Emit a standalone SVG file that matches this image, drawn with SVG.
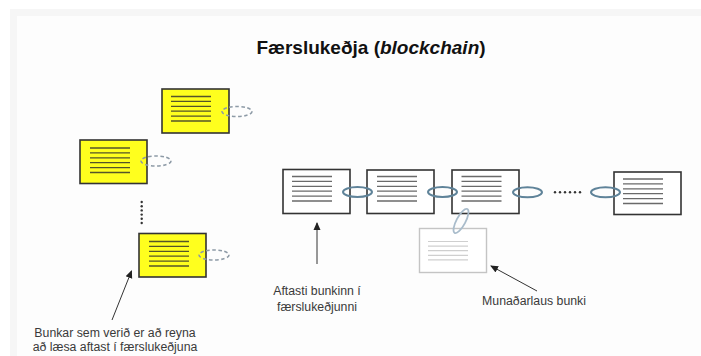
<svg xmlns="http://www.w3.org/2000/svg" width="701" height="356" viewBox="0 0 701 356">
<defs>
<style>
.blk{fill:#ffffff;stroke:#333333;stroke-width:1.6}
.ylw{fill:#ffff1e;stroke:#333333;stroke-width:1.6}
.ln{stroke:#6a6a6a;stroke-width:1.3}
.yln{stroke:#55552a;stroke-width:1.3}
.gln{stroke:#cfcfcf;stroke-width:1.2}
.link{fill:none;stroke:#5f8399;stroke-width:2}
.dlink{fill:none;stroke:#8d9aa6;stroke-width:1.6;stroke-dasharray:3.5 2.5}
.txt{font-family:"Liberation Sans","Open Sans",sans-serif;font-size:12.3px;fill:#3a3a3a;text-anchor:middle}
.arr{stroke:#333333;stroke-width:1;fill:none}
</style>
<marker id="ah" markerWidth="8" markerHeight="8" refX="7" refY="4" orient="auto" markerUnits="userSpaceOnUse">
<path d="M0,0.5 L8,4 L0,7.5 Z" fill="#222222"/>
</marker>
<g id="lines6">
<line x1="0" y1="0" x2="40" y2="0"/>
<line x1="0" y1="4.9" x2="40" y2="4.9"/>
<line x1="0" y1="9.8" x2="40" y2="9.8"/>
<line x1="0" y1="14.7" x2="40" y2="14.7"/>
<line x1="0" y1="19.6" x2="40" y2="19.6"/>
<line x1="0" y1="24.5" x2="40" y2="24.5"/>
</g>
</defs>
<rect x="0" y="0" width="701" height="356" fill="#ffffff"/>
<rect x="10" y="9" width="691" height="347" fill="#f6f6f6"/>
<rect x="17" y="16" width="684" height="340" fill="#fdfdfd"/>

<text x="371" y="54" style="font-family:'Liberation Sans','Open Sans',sans-serif;font-size:19px;font-weight:bold;fill:#111111;text-anchor:middle">Færslukeðja (<tspan font-style="italic">blockchain</tspan>)</text>

<g id="connectors">
<line class="arr" x1="112" y1="320" x2="131.5" y2="271" marker-end="url(#ah)"/>
<line class="arr" x1="317" y1="264" x2="317" y2="223" marker-end="url(#ah)"/>
<line class="arr" x1="537" y1="291" x2="491" y2="266" marker-end="url(#ah)"/>
</g>

<g id="cand1">
<rect class="ylw" x="162" y="89" width="67" height="44"/>
<use href="#lines6" class="yln" x="171" y="96.5"/>
<ellipse class="dlink" cx="237" cy="111.5" rx="15" ry="5"/>
</g>
<g id="cand2">
<rect class="ylw" x="80" y="140" width="67" height="43.5"/>
<use href="#lines6" class="yln" x="90" y="148"/>
<ellipse class="dlink" cx="156" cy="161" rx="15" ry="5"/>
</g>
<g id="vdots" fill="#333333">
<circle cx="141.7" cy="202" r="1.2"/>
<circle cx="141.7" cy="206.2" r="1.2"/>
<circle cx="141.7" cy="210.4" r="1.2"/>
<circle cx="141.7" cy="214.6" r="1.2"/>
<circle cx="141.7" cy="218.8" r="1.2"/>
<circle cx="141.7" cy="223" r="1.2"/>
</g>
<g id="cand3">
<rect class="ylw" x="139" y="233.5" width="67" height="43.5"/>
<use href="#lines6" class="yln" x="149" y="241.5"/>
<ellipse class="dlink" cx="214" cy="255" rx="15" ry="5"/>
</g>

<g id="block1">
<rect class="blk" x="283" y="169.5" width="67" height="44"/>
<use href="#lines6" class="ln" x="292" y="176.5"/>
</g>
<g id="block2">
<rect class="blk" x="367" y="170" width="67" height="43.5"/>
<use href="#lines6" class="ln" x="377" y="176.5"/>
</g>
<g id="block3">
<rect class="blk" x="452" y="170" width="67" height="43.5"/>
<use href="#lines6" class="ln" x="461.5" y="176.5"/>
</g>
<g id="block4">
<rect class="blk" x="614" y="172" width="67" height="42.5"/>
<use href="#lines6" class="ln" x="623" y="179"/>
</g>
<g id="orphan">
<rect x="419.5" y="228.5" width="67" height="44" fill="#ffffff" stroke="#c4c4c4" stroke-width="1.4"/>
<g class="gln">
<line x1="428" y1="241.5" x2="468" y2="241.5"/>
<line x1="428" y1="246.1" x2="468" y2="246.1"/>
<line x1="428" y1="250.7" x2="468" y2="250.7"/>
<line x1="428" y1="255.3" x2="468" y2="255.3"/>
<line x1="428" y1="259.9" x2="468" y2="259.9"/>
</g>
<ellipse cx="461" cy="221" rx="13.5" ry="4.5" fill="none" stroke="#a9bccb" stroke-width="1.8" transform="rotate(-62 461 221)"/>
</g>

<g id="links">
<ellipse class="link" cx="357.5" cy="192" rx="14.5" ry="5"/>
<ellipse class="link" cx="442.5" cy="192" rx="14.5" ry="5"/>
<ellipse class="link" cx="527.5" cy="192.3" rx="14.5" ry="5"/>
<ellipse class="link" cx="605.5" cy="192.3" rx="14.5" ry="5"/>
</g>
<g id="hdots" fill="#333333">
<circle cx="555" cy="192.3" r="1.2"/>
<circle cx="560" cy="192.3" r="1.2"/>
<circle cx="565" cy="192.3" r="1.2"/>
<circle cx="570" cy="192.3" r="1.2"/>
<circle cx="575" cy="192.3" r="1.2"/>
<circle cx="580" cy="192.3" r="1.2"/>
</g>

<g id="labels">
<text class="txt" x="115" y="337">Bunkar sem verið er að reyna</text>
<text class="txt" x="115" y="351">að læsa aftast í færslukeðjuna</text>
<text class="txt" x="317" y="295">Aftasti bunkinn í</text>
<text class="txt" x="317" y="311">færslukeðjunni</text>
<text class="txt" x="534" y="305">Munaðarlaus bunki</text>
</g>
</svg>
